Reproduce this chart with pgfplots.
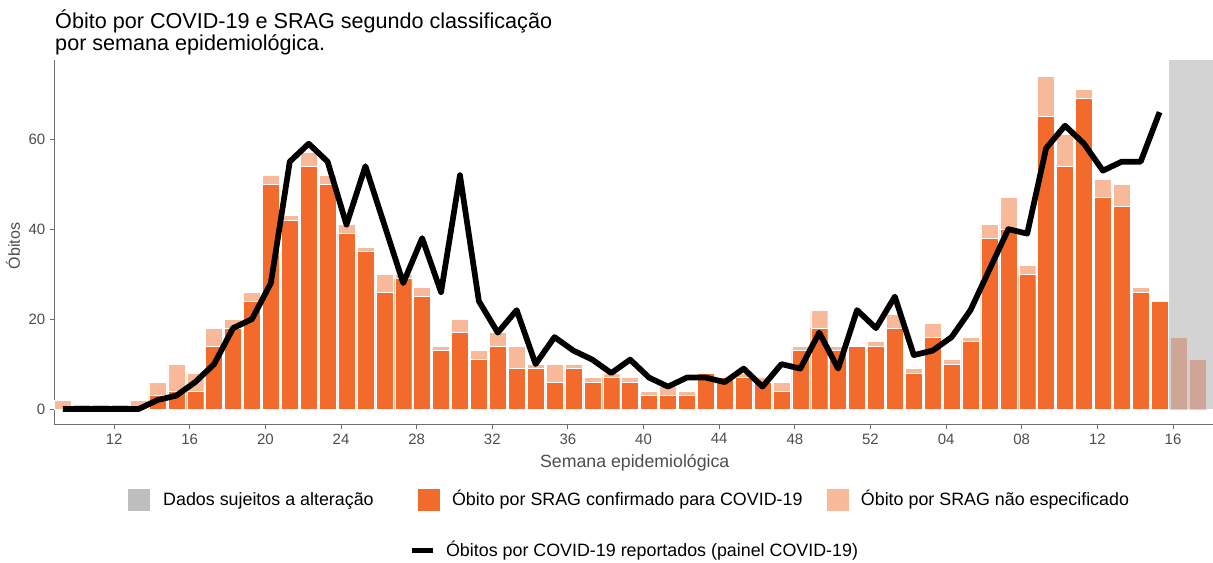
\documentclass[border=0pt]{standalone}
\usepackage{fontspec}
\setmainfont{Liberation Sans}
\usepackage{pgfplots}
\pgfplotsset{compat=1.18}
\usepackage{pgfplotstable}

\definecolor{Conf}{HTML}{F26B2D}
\definecolor{NaoEsp}{HTML}{F8B99B}
\definecolor{Sujeito}{HTML}{D3D3D3}
\definecolor{SujLeg}{HTML}{BEBEBE}
\definecolor{SujBar}{HTML}{CFA696}
\definecolor{Texto}{HTML}{4D4D4D}
\definecolor{Eixo}{HTML}{6E6E6E}

% semanas epidemiologicas 2020/09 ... 2021/15 (idx 0..58)
\pgfplotstableread{
idx conf total
0 0 2
1 0 1
2 0 1
3 0 1
4 0 2
5 3 6
6 4 10
7 4 8
8 14 18
9 18 20
10 24 26
11 50 52
12 42 43
13 54 57
14 50 52
15 39 41
16 35 36
17 26 30
18 29 30
19 25 27
20 13 14
21 17 20
22 11 13
23 14 17
24 9 14
25 9 10
26 6 10
27 9 10
28 6 7
29 7 8
30 6 7
31 3 4
32 3 5
33 3 4
34 8 8
35 7 7
36 7 8
37 6 7
38 4 6
39 13 14
40 18 22
41 13 14
42 14 14
43 14 15
44 18 21
45 8 9
46 16 19
47 10 11
48 15 16
49 38 41
50 40 47
51 30 32
52 65 74
53 54 61
54 69 71
55 47 51
56 45 50
57 26 27
58 24 24
}\srag

% semanas 16 e 17 de 2021 (dados sujeitos a alteracao)
\pgfplotstableread{
idx total
59 16
60 11
}\recentes

% obitos reportados no painel COVID-19
\pgfplotstableread{
idx obitos
0 0
1 0
2 0
3 0
4 0
5 2
6 3
7 6
8 10
9 18
10 20
11 28
12 55
13 59
14 55
15 41
16 54
17 41
18 28
19 38
20 26
21 52
22 24
23 17
24 22
25 10
26 16
27 13
28 11
29 8
30 11
31 7
32 5
33 7
34 7
35 6
36 9
37 5
38 10
39 9
40 17
41 9
42 22
43 18
44 25
45 12
46 13
47 16
48 22
49 31
50 40
51 39
52 58
53 63
54 59
55 53
56 55
57 55
58 66
}\painel

\begin{document}
\begin{tikzpicture}
% frame in pixel units, y downwards
\begin{scope}[x=0.75pt, y=-0.75pt]
  \path[use as bounding box] (0,0) rectangle (1213,563);
\end{scope}

\begin{axis}[
    at={(40.5pt,-318.75pt)}, anchor=south west,
    scale only axis,
    width=869.25pt, height=273.75pt,
    xmin=-0.47, xmax=60.8,
    ymin=-3.5, ymax=77.6,
    axis x line=bottom, axis y line=left,
    axis line style={-, draw=Eixo, line width=0.7pt},
    xtick={2.71,6.71,10.71,14.71,18.71,22.71,26.71,30.71,34.71,38.71,42.71,46.71,50.71,54.71,58.71},
    xticklabels={12,16,20,24,28,32,36,40,44,48,52,04,08,12,16},
    ytick={0,20,40,60},
    tick align=outside,
    major tick length=3pt,
    tick style={draw=Eixo, line width=0.7pt},
    tick label style={font=\fontsize{11.25}{13}\selectfont, text=Texto},
    /pgf/number format/assume math mode=true,
    clip=false,
]
\fill[Sujeito] (axis cs:58.5,0) rectangle (axis cs:60.8,77.6);

\addplot[ybar, bar width=0.9, bar shift=0pt, fill=NaoEsp, draw=white, line width=0.3pt]
    table[x=idx, y=total] {\srag};
\addplot[ybar, bar width=0.9, bar shift=0pt, fill=Conf, draw=white, line width=0.3pt]
    table[x=idx, y=conf] {\srag};
\addplot[ybar, bar width=0.9, bar shift=0pt, fill=SujBar, draw=Sujeito, line width=0.3pt]
    table[x=idx, y=total] {\recentes};

\addplot[black, line width=4.3pt, line join=round, no markers]
    table[x=idx, y=obitos] {\painel};
\end{axis}

\begin{scope}[x=0.75pt, y=-0.75pt]
  % titulo
  \node[anchor=base west, inner sep=0pt, font=\fontsize{16.2}{19}\selectfont] at (55,29)
    {Óbito por COVID-19 e SRAG segundo classificação};
  \node[anchor=base west, inner sep=0pt, font=\fontsize{16.2}{19}\selectfont] at (55,51)
    {por semana epidemiológica.};
  % eixos
  \node[rotate=90, anchor=base, inner sep=0pt, font=\fontsize{12}{14}\selectfont, text=Texto] at (20,246) {Óbitos};
  \node[anchor=base, inner sep=0pt, font=\fontsize{13.3}{15}\selectfont, text=Texto] at (635,468) {Semana epidemiológica};
  % legenda
  \fill[SujLeg] (128,489) rectangle (150,511);
  \node[anchor=base west, inner sep=0pt, font=\fontsize{13.4}{15}\selectfont] at (163,506) {Dados sujeitos a alteração};
  \fill[Conf] (418,489) rectangle (440,511);
  \node[anchor=base west, inner sep=0pt, font=\fontsize{13.4}{15}\selectfont] at (452,506) {Óbito por SRAG confirmado para COVID-19};
  \fill[NaoEsp] (827,489) rectangle (849,511);
  \node[anchor=base west, inner sep=0pt, font=\fontsize{13.4}{15}\selectfont] at (861,506) {Óbito por SRAG não especificado};
  \draw[black, line width=4pt] (412,551) -- (433,551);
  \node[anchor=base west, inner sep=0pt, font=\fontsize{13.4}{15}\selectfont] at (446,557) {Óbitos por COVID-19 reportados (painel COVID-19)};
\end{scope}
\end{tikzpicture}
\end{document}
